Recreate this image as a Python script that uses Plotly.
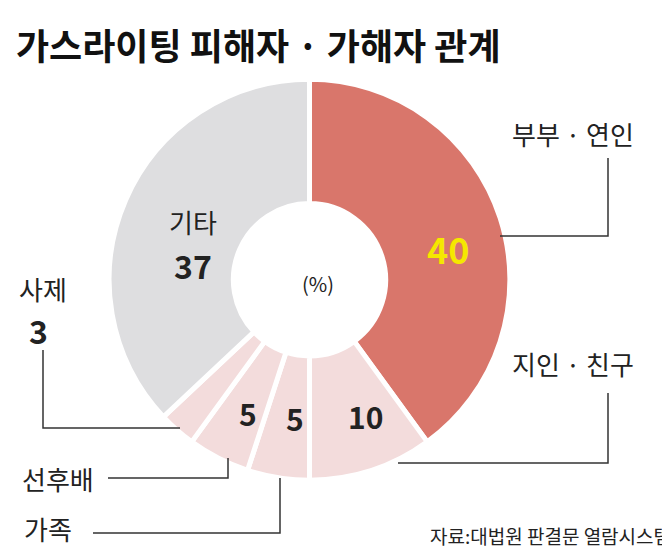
import plotly.graph_objects as go

labels = ["부부 · 연인", "지인 · 친구", "가족", "선후배", "사제", "기타"]
values = [40, 10, 5, 5, 3, 37]
colors = ["#d9766b", "#f3dcdc", "#f3dcdc", "#f3dcdc", "#f3dcdc", "#dedee0"]

W, H = 670, 549
def px(x, y):
    return x / W, 1 - y / H

fig = go.Figure(go.Pie(
    values=values, labels=labels, sort=False, direction="clockwise", rotation=0,
    hole=0.38, textinfo="none", hoverinfo="skip",
    marker=dict(colors=colors, line=dict(color="white", width=5)),
    domain=dict(x=[0.150, 0.750], y=[0.140, 0.870]),
))

F = "Noto Sans CJK KR"
ann = []
def t(x, y, s, size, color="#222", bold=False, xa="center"):
    ax, ay = px(x, y)
    ann.append(dict(x=ax, y=ay, xref="paper", yref="paper", text=f"<b>{s}</b>" if bold else s,
                    showarrow=False, xanchor=xa, yanchor="middle",
                    font=dict(family=F, size=size, color=color)))

t(6, 36, "가스라이팅 피해자 · 가해자 관계", 36, "#111", True, "left")
t(440, 240, str(values[0]), 36, "#f5e800", True)
t(357, 408, str(values[1]), 30, "#222", True)
t(287, 410, str(values[2]), 30, "#222", True)
t(240, 405, str(values[3]), 30, "#222", True)
t(185, 213, "기타", 26)
t(185, 257, str(values[5]), 32, "#222", True)
t(35, 280, "사제", 26)
t(30, 322, str(values[4]), 32, "#222", True)
t(310, 275, "(%)", 20)
t(565, 125, labels[0], 26)
t(565, 355, labels[1], 26)
t(50, 470, labels[3], 26)
t(40, 520, labels[2], 26)
t(665, 527, "자료:대법원 판결문 열람시스템", 19, "#222", False, "right")

shapes = []
def path(pts):
    d = "M " + " L ".join(f"{x/W},{1-y/H}" for x, y in pts)
    shapes.append(dict(type="path", path=d, xref="paper", yref="paper",
                       line=dict(color="#333", width=1.5)))
path([(600, 150), (600, 228), (492, 228)])
path([(600, 385), (600, 455), (390, 455)])
path([(35, 342), (35, 420), (172, 420)])
path([(100, 470), (220, 470), (220, 450)])
path([(85, 525), (272, 525), (272, 470)])

fig.update_layout(width=W, height=H, margin=dict(l=0, r=0, t=0, b=0),
                  paper_bgcolor="white", showlegend=False,
                  annotations=ann, shapes=shapes)
fig.write_html("out.html")
